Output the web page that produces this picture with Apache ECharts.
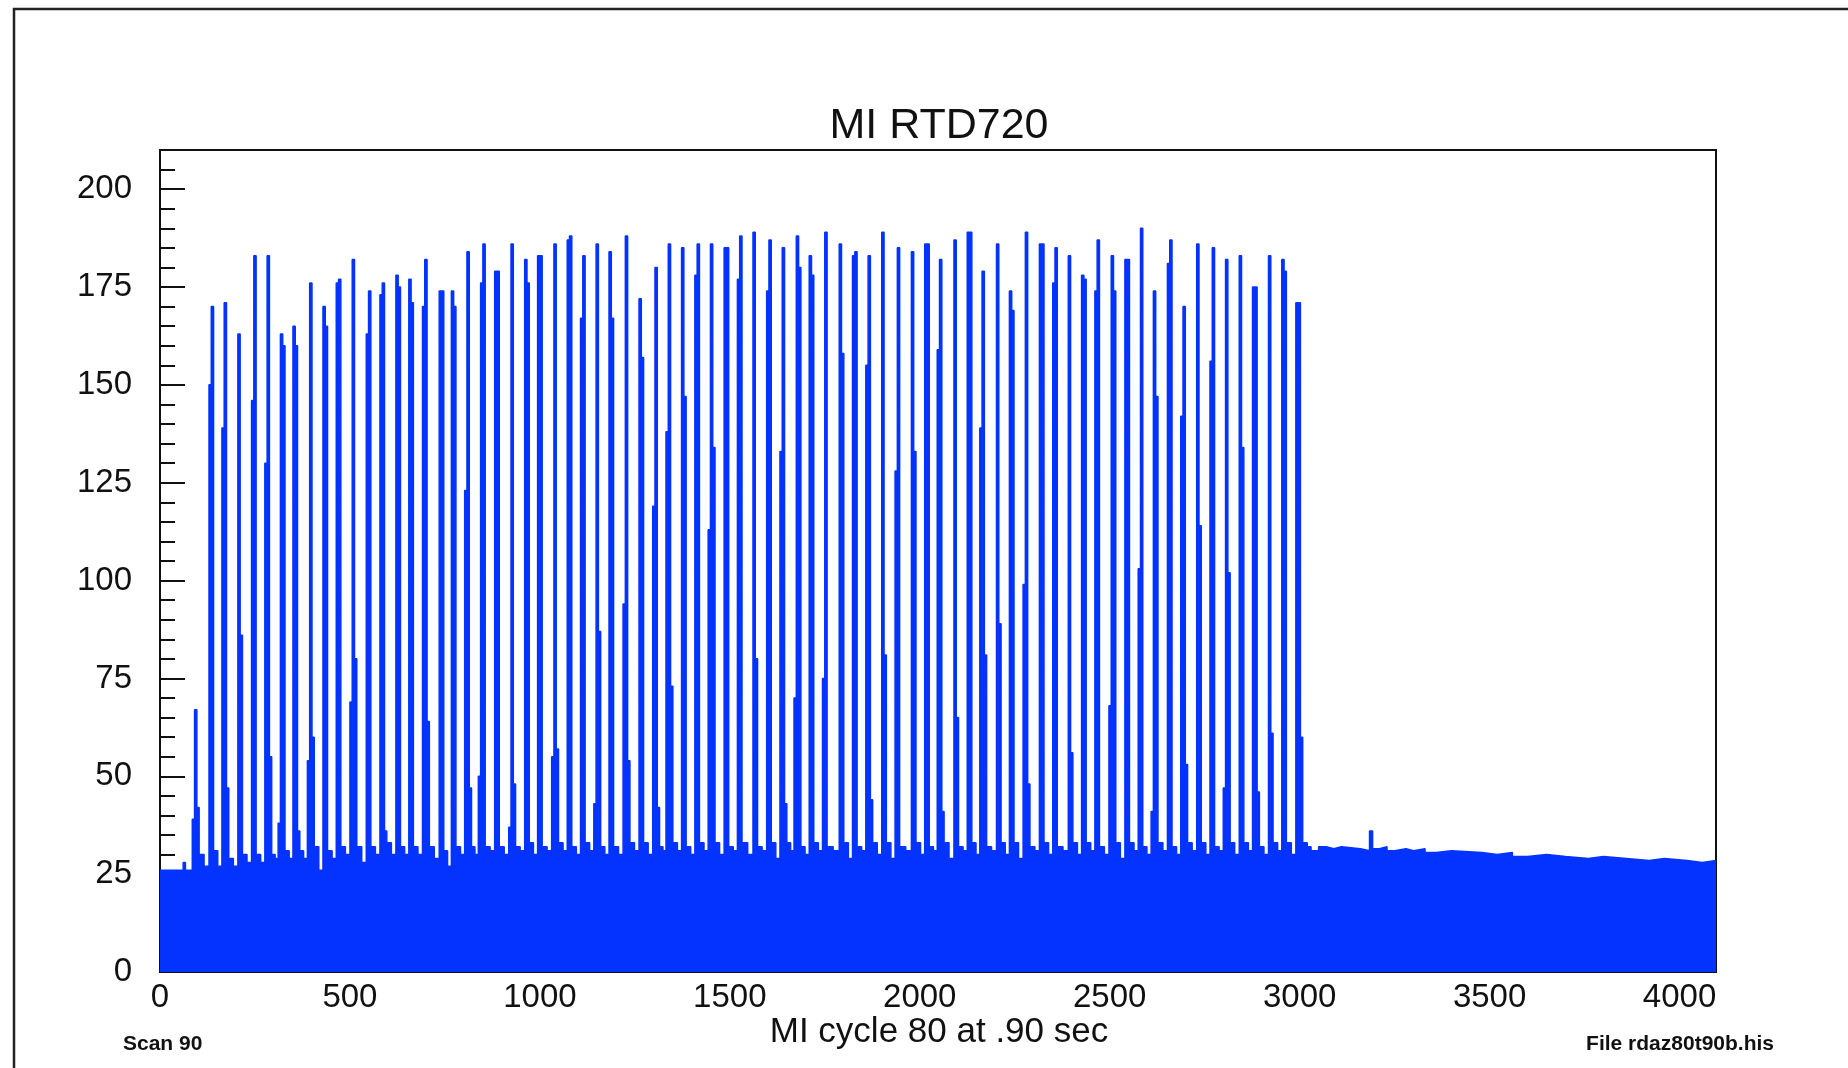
<!DOCTYPE html>
<html>
<head>
<meta charset="utf-8">
<title>MI RTD720</title>
<script src="https://cdn.jsdelivr.net/npm/echarts@6/dist/echarts.min.js"></script>
<style>
  html, body { margin: 0; padding: 0; background: #ffffff; }
  #chart { width: 1848px; height: 1068px; }
</style>
</head>
<body>
<div id="chart"></div>
<script>
// ---- Histogram content (channels 0..4095) ----
const NCHAN = 4096;
const PEAK_BIN = 6;               // channels per bin inside a peak

// Continuum before the first spill
const leadCh  = [0, 61, 67];
const leadVal = [26, 28, 26];

// First channel of each beam peak
const peakStart = [
  85, 129, 163, 205, 241, 276, 311, 350, 388, 429,
  464, 500, 543, 579, 621, 655, 691, 735, 767, 802,
  838, 881, 918, 960, 994, 1031, 1072, 1107, 1142, 1182,
  1219, 1261, 1297, 1332, 1373, 1408, 1443, 1485, 1520, 1561,
  1597, 1632, 1669, 1709, 1744, 1788, 1823, 1858, 1900, 1935,
  1978, 2013, 2046, 2090, 2125, 2158, 2202, 2236, 2272, 2315,
  2350, 2391, 2426, 2461, 2498, 2540, 2575, 2609, 2652, 2687,
  2729, 2764, 2799, 2841, 2876, 2918, 2953, 2990
];

// Successive bin contents of each peak
const peakBins = [
  [39, 67, 42], [150, 170], [139, 171, 47], [163, 86], [146, 183],
  [130, 183, 55], [38, 163, 160], [165, 160, 36], [54, 176, 60], [170, 165],
  [176, 177], [69, 182, 80], [163, 174], [173, 176, 36], [178, 175],
  [177, 171], [170, 182, 64], [174, 174], [174, 170], [123, 184, 47],
  [50, 176, 186], [179, 179], [37, 186, 48], [182, 176], [183, 183],
  [55, 186, 57], [187, 188], [167, 183], [43, 186, 87], [184, 167],
  [94, 188, 54], [172, 157], [119, 180, 42], [138, 186, 73], [185, 147],
  [178, 186], [113, 186, 134], [185, 185], [177, 188], [189, 80],
  [174, 187], [133, 185, 43], [70, 188, 180], [183, 178], [75, 189],
  [186, 158], [183, 184], [155, 183, 44], [189, 81], [128, 185],
  [184, 133], [186, 186], [159, 182, 41], [187, 65], [189, 189],
  [139, 179, 81], [186, 89], [174, 169], [99, 189, 48], [186, 186],
  [176, 185], [183, 56], [178, 177], [174, 187], [68, 183, 174],
  [182, 182], [103, 190], [41, 174, 147], [181, 187], [142, 170, 53],
  [186, 114], [156, 185], [47, 182, 102], [183, 134], [175, 175, 46],
  [183, 61], [182, 179], [171, 171, 60]
];

// Continuum between consecutive peaks: first half / second half of each gap
const gapHigh = [
  30, 31, 29, 30, 30, 30, 31, 31, 32, 31,
  32, 32, 32, 33, 32, 32, 32, 31, 32, 32,
  32, 32, 32, 33, 32, 33, 32, 33, 32, 32,
  33, 33, 32, 33, 32, 33, 33, 32, 33, 32,
  33, 33, 32, 33, 32, 33, 32, 33, 33, 32,
  33, 32, 33, 32, 33, 32, 33, 33, 32, 33,
  32, 33, 33, 32, 33, 33, 32, 33, 32, 33,
  33, 32, 33, 33, 32, 33, 33
];
const gapLow = [
  27, 27, 27, 28, 28, 29, 29, 29, 26, 29,
  30, 28, 30, 30, 30, 30, 29, 27, 30, 30,
  31, 30, 31, 30, 31, 31, 30, 31, 30, 30,
  31, 30, 31, 31, 30, 31, 30, 31, 30, 31,
  29, 31, 30, 31, 31, 29, 31, 30, 29, 31,
  30, 31, 29, 31, 30, 31, 30, 29, 31, 30,
  31, 30, 31, 30, 29, 31, 30, 31, 30, 31,
  30, 31, 30, 31, 30, 31, 30
];

// Continuum after the last spill
const tailCh  = [
  3008, 3020, 3030, 3050, 3070, 3090, 3110, 3140, 3160, 3184,
  3192, 3210, 3230, 3250, 3280, 3300, 3330, 3360, 3400, 3440,
  3480, 3520, 3560, 3600, 3650, 3700, 3760, 3800, 3860, 3920,
  3960, 4020, 4060
];
const tailVal = [
  33, 32, 31, 32, 31.5, 32, 31.5, 31.5, 31, 36,
  31.5, 32, 31, 31.5, 31, 31.5, 30.5, 31, 30.5, 30.5,
  30, 30.5, 29.5, 30, 29.5, 29, 29.5, 29, 28.5, 29,
  28.5, 28, 28.5
];

// Axis ticks
const xTicks = [0, 500, 1000, 1500, 2000, 2500, 3000, 3500, 4000];
const xMinorTicks = [250, 750, 1250, 1750, 2250, 2750, 3250, 3750];
const yTicks = [0, 25, 50, 75, 100, 125, 150, 175, 200];

// ---- Build per-channel contents ----
const content = new Array(NCHAN).fill(0);
function fillRange(a, b, v) {
  for (let c = Math.max(0, a); c < Math.min(NCHAN, b); c++) content[c] = v;
}
function fillSteps(chs, vals, end) {
  for (let i = 0; i < chs.length; i++) {
    fillRange(chs[i], i + 1 < chs.length ? chs[i + 1] : end, vals[i]);
  }
}
fillSteps(leadCh, leadVal, peakStart[0]);
for (let i = 0; i < peakStart.length; i++) {
  const bins = peakBins[i];
  const s = peakStart[i];
  bins.forEach((v, k) => fillRange(s + k * PEAK_BIN, s + (k + 1) * PEAK_BIN, v));
  const gapStart = s + bins.length * PEAK_BIN;
  if (i + 1 < peakStart.length) {
    const next = peakStart[i + 1];
    const mid = Math.round((gapStart + next) / 2);
    fillRange(gapStart, mid, gapHigh[i]);
    fillRange(mid, next, gapLow[i]);
  } else {
    fillRange(gapStart, tailCh[0], tailVal[0]);
  }
}
fillSteps(tailCh, tailVal, NCHAN);

// Step outline points (bin lower edges where the content changes)
const outline = [];
for (let c = 0; c < NCHAN; c++) {
  if (c === 0 || content[c] !== content[c - 1]) outline.push([c, content[c]]);
}
outline.push([NCHAN, content[NCHAN - 1]]);

// ---- Chart ----
const BLUE = '#0433ff';
const FONT = '"Liberation Sans", Arial, Helvetica, sans-serif';
const chart = echarts.init(document.getElementById('chart'), null, { renderer: 'canvas' });

const grid = { left: 160, top: 150, width: 1556, height: 822, show: true,
  borderColor: '#111', borderWidth: 2, backgroundColor: 'transparent' };

chart.setOption({
  animation: false,
  backgroundColor: '#ffffff',
  grid: grid,
  xAxis: [
    {
      type: 'value', min: 0, max: NCHAN,
      axisLine: { show: false },
      splitLine: { show: false },
      axisTick: { inside: true, length: 23, customValues: xTicks,
        lineStyle: { color: '#111', width: 2 } },
      axisLabel: { customValues: xTicks, margin: 9, color: '#111',
        fontFamily: FONT, fontSize: 33, formatter: v => String(v) }
    },
    {
      type: 'value', min: 0, max: NCHAN, position: 'bottom',
      axisLine: { show: false },
      splitLine: { show: false },
      axisTick: { inside: true, length: 12, customValues: xMinorTicks,
        lineStyle: { color: '#111', width: 2 } },
      axisLabel: { show: false }
    }
  ],
  yAxis: [
    {
      type: 'value', min: 0, max: 210,
      axisLine: { show: false },
      splitLine: { show: false },
      axisTick: { inside: true, length: 25, customValues: yTicks,
        lineStyle: { color: '#111', width: 2 } },
      axisLabel: { customValues: yTicks, margin: 28, color: '#111',
        fontFamily: FONT, fontSize: 33, formatter: v => String(v) }
    },
    {
      type: 'value', min: 0, max: 210, interval: 5, position: 'left',
      axisLine: { show: false },
      splitLine: { show: false },
      axisTick: { inside: true, length: 15,
        lineStyle: { color: '#111', width: 2 } },
      axisLabel: { show: false }
    }
  ],
  series: [
    {
      type: 'line',
      xAxisIndex: 0, yAxisIndex: 0,
      data: outline,
      step: 'end',
      symbol: 'none',
      silent: true,
      sampling: null,
      lineStyle: { color: BLUE, width: 1.5 },
      areaStyle: { color: BLUE, opacity: 1 },
      z: 1
    }
  ],
  graphic: [
    { type: 'rect', shape: { x: 14, y: 9, width: 1900, height: 1200 },
      style: { fill: 'none', stroke: '#222', lineWidth: 2.5 }, silent: true },
    { type: 'text', x: 939, y: 126,
      style: { text: 'MI RTD720', fill: '#111', font: '43px ' + FONT,
        align: 'center', verticalAlign: 'middle' } },
    { type: 'text', x: 939, y: 1032,
      style: { text: 'MI cycle 80 at .90 sec', fill: '#111', font: '35px ' + FONT,
        align: 'center', verticalAlign: 'middle' } },
    { type: 'text', x: 123, y: 1044,
      style: { text: 'Scan 90', fill: '#111', font: 'bold 21px ' + FONT,
        align: 'left', verticalAlign: 'middle' } },
    { type: 'text', x: 1774, y: 1044,
      style: { text: 'File rdaz80t90b.his', fill: '#111', font: 'bold 21px ' + FONT,
        align: 'right', verticalAlign: 'middle' } }
  ]
});
</script>
</body>
</html>
